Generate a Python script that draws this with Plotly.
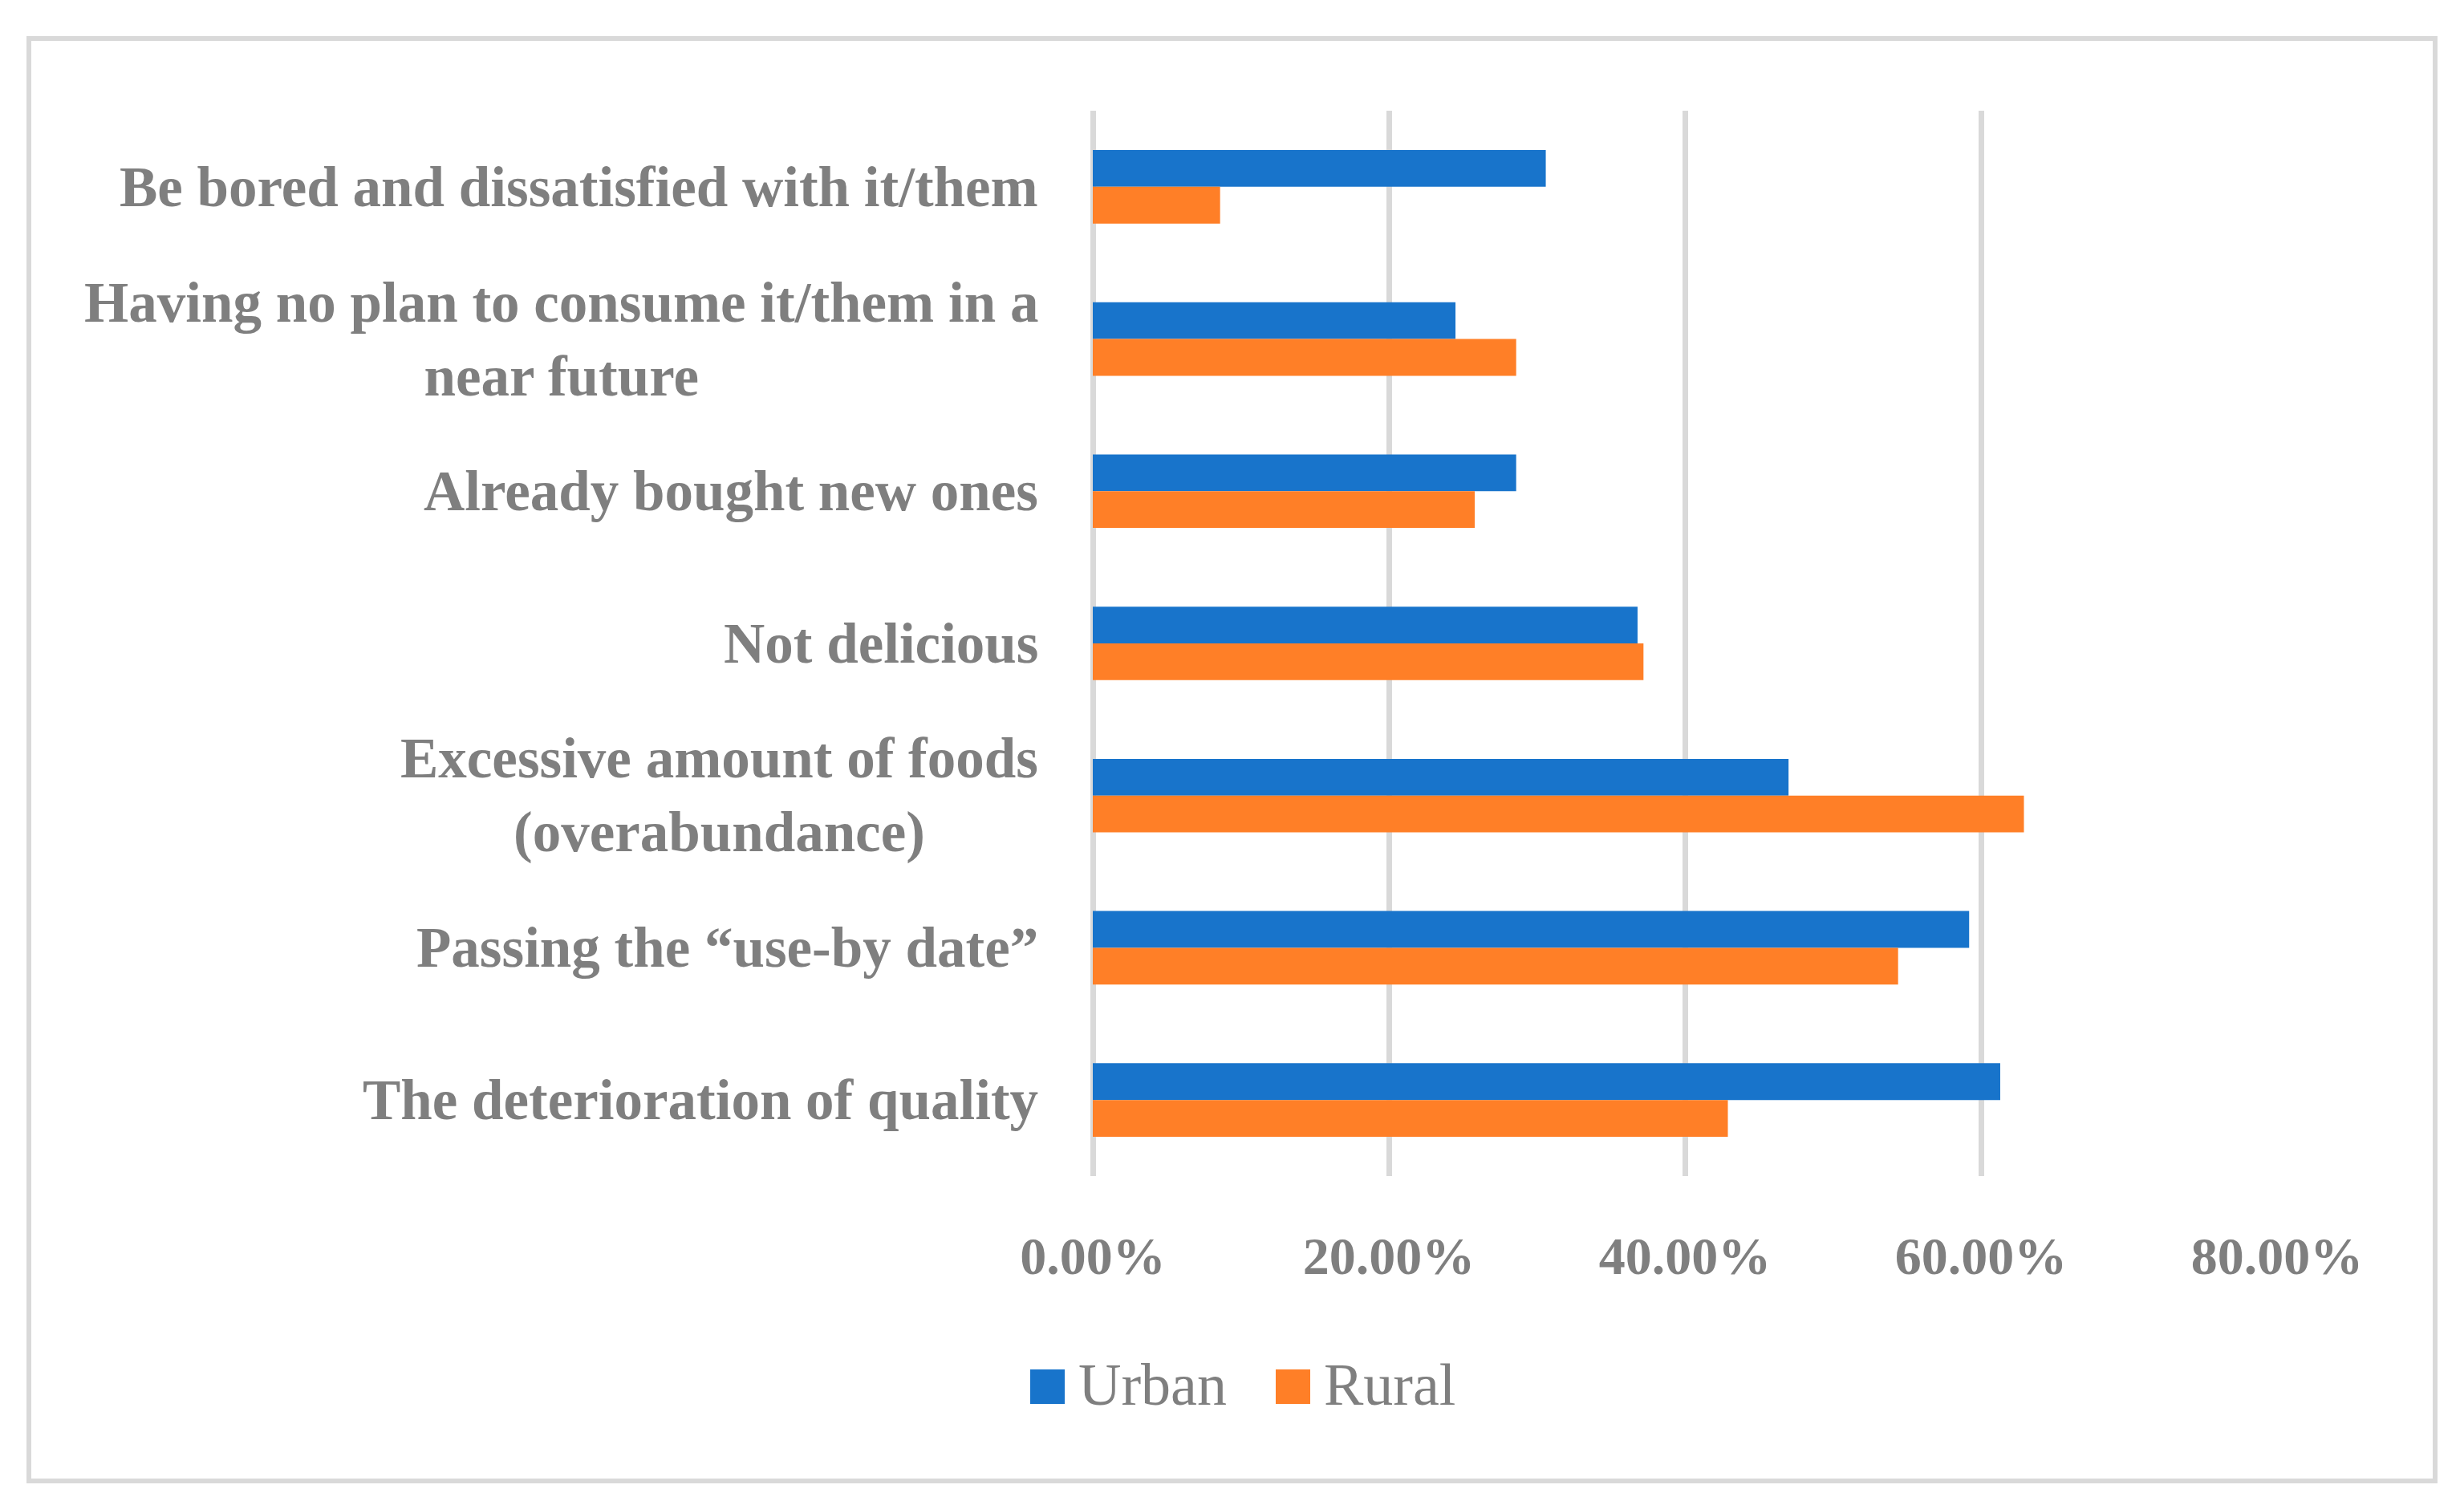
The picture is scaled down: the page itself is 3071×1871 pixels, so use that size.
import plotly.graph_objects as go

#reasons for food waste, urban vs rural share of respondents
reasons = [
    "Be bored and dissatisfied with it/them",
    "Having no plan to consume it/them in a<br>near future",
    "Already bought new ones",
    "Not delicious",
    "Excessive amount of foods<br>(overabundance)",
    "Passing the \u201cuse-by date\u201d",
    "The deterioration of quality",
]
urban = [0.306, 0.245, 0.286, 0.368, 0.470, 0.592, 0.613]
rural = [0.086, 0.286, 0.258, 0.372, 0.629, 0.544, 0.429]
x_ticks = [0, 0.2, 0.4, 0.6, 0.8]
x_ticklabels = ["0.00%", "20.00%", "40.00%", "60.00%", "80.00%"]
series_names = ["Urban", "Rural"]

BLUE = "#1874CB"
ORANGE = "#FF7F27"
GRAY_TXT = "#7F7F7F"
GRID = "#D9D9D9"
FONT = "Liberation Serif"

W, H = 3071, 1871
L, R, T, B = 1354, 241, 130, 413
PW = W - L - R
PH = H - T - B


#pixel position to paper coordinates
def px_x(p):
    return (p - L) / PW


def px_y(p):
    return (H - B - p) / PH


fig = go.Figure()
fig.add_trace(go.Bar(y=reasons, x=urban, name=series_names[0], orientation="h",
                     marker=dict(color=BLUE, line=dict(width=0)), showlegend=False))
fig.add_trace(go.Bar(y=reasons, x=rural, name=series_names[1], orientation="h",
                     marker=dict(color=ORANGE, line=dict(width=0)), showlegend=False))

#category labels as annotations so wrapped lines stay centred
annotations = []
for r in reasons:
    annotations.append(dict(
        x=0, xref="paper", y=r, yref="y", xanchor="right", yanchor="middle",
        xshift=-66, text="<b>%s</b>" % r, showarrow=False, align="center",
        font=dict(family=FONT, size=71, color=GRAY_TXT)))

#legend drawn by hand, plotly legend squares are too small here
shapes = []
legend_items = [(series_names[0], BLUE, 1276, 1334), (series_names[1], ORANGE, 1582, 1640)]
for name, col, sq_x, txt_x in legend_items:
    shapes.append(dict(type="rect", xref="paper", yref="paper",
                       x0=px_x(sq_x), x1=px_x(sq_x + 43),
                       y0=px_y(1699), y1=px_y(1742),
                       fillcolor=col, line=dict(width=0)))
    annotations.append(dict(
        x=px_x(txt_x), xref="paper", y=px_y(1718), yref="paper",
        xanchor="left", yanchor="middle", text=name, showarrow=False,
        font=dict(family=FONT, size=74, color=GRAY_TXT)))

#outer chart border
shapes.append(dict(type="rect", xref="paper", yref="paper",
                   x0=px_x(28), x1=px_x(3027), y0=px_y(40), y1=px_y(1838),
                   line=dict(color=GRID, width=6), fillcolor="rgba(0,0,0,0)",
                   layer="below"))

fig.update_layout(
    width=W, height=H,
    margin=dict(l=L, r=R, t=T, b=B),
    paper_bgcolor="white", plot_bgcolor="white",
    barmode="group", bargap=0.517, bargroupgap=0,
    font=dict(family=FONT, size=66, color=GRAY_TXT),
    annotations=annotations, shapes=shapes,
    showlegend=False,
)
fig.update_xaxes(
    range=[0, 0.8], tickvals=x_ticks,
    ticktext=["<b>%s</b>" % t for t in x_ticklabels],
    showgrid=True, gridcolor=GRID, gridwidth=7,
    zeroline=True, zerolinecolor=GRID, zerolinewidth=7,
    showline=False, ticks="", ticklabelstandoff=55,
    tickfont=dict(family=FONT, size=66, color=GRAY_TXT),
)
fig.update_yaxes(
    autorange="reversed", showticklabels=False, showgrid=False,
    zeroline=False, showline=False, ticks="",
)

fig.write_html("out.html")
